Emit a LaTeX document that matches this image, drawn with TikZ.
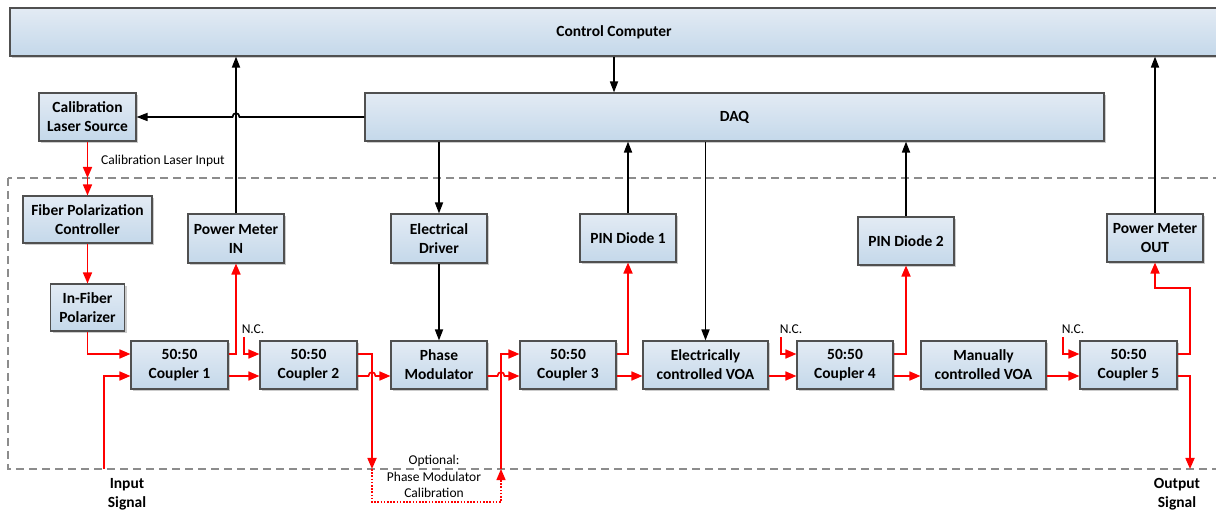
\documentclass[tikz,border=0pt]{standalone}
\usepackage{fontspec}
\setmainfont{Carlito}
\usetikzlibrary{arrows.meta,calc,shadows}
\definecolor{boxtop}{HTML}{E3EBF4}
\definecolor{boxbot}{HTML}{C4D8EA}
\definecolor{boxline}{HTML}{505050}
\definecolor{fibre}{HTML}{FF0000}
\definecolor{framegray}{HTML}{8C8C8C}
\begin{document}
\begin{tikzpicture}[x=1pt,y=-1pt,
  box/.style={draw=boxline, line width=1.1pt, top color=boxtop, bottom color=boxbot,
    inner sep=0pt, align=center, font=\bfseries\fontsize{15.5}{19}\selectfont,
    drop shadow={shadow xshift=2pt, shadow yshift=-2pt, fill=black!40, opacity=0.5}},
  fib/.style={draw=fibre, line width=1.7pt, -{Triangle[length=11pt,width=9pt]}},
  fibdot/.style={draw=fibre, line width=1.3pt, dash pattern=on 1.6pt off 1.6pt,
    -{Triangle[length=11pt,width=9pt]}},
  sig/.style={draw=black, line width=1.7pt, -{Triangle[length=11pt,width=8pt]}},
  lbl/.style={inner sep=0pt, font=\fontsize{13.5}{16.5}\selectfont, align=center},
  boldlbl/.style={inner sep=0pt, font=\bfseries\fontsize{15.5}{19}\selectfont, align=center},
  framedash/.style={draw=framegray, line width=1.2pt, dash pattern=on 8pt off 5pt}]
\useasboundingbox (0,0) rectangle (1216,510);
\clip (0,0) rectangle (1216,510);

% dashed enclosure of the optical bench
\draw[framedash] (8,178) rectangle (1240,469);

% instruments
\node[box, minimum width=1208pt, minimum height=48pt] (cc) at (614,32) {Control Computer};
\node[box, minimum width=739pt, minimum height=48pt] (daq) at (734.5,117) {DAQ};
\node[box, minimum width=97pt, minimum height=48pt] (cls) at (87.5,117) {Calibration\\Laser Source};
\node[box, minimum width=129pt, minimum height=47pt] (fpc) at (87.5,219.5) {Fiber Polarization\\Controller};
\node[box, minimum width=74pt, minimum height=47pt] (ifp) at (87.5,307.5) {In-Fiber\\Polarizer};
\node[box, minimum width=96pt, minimum height=49pt] (pmin) at (236,238.5) {Power Meter\\IN};
\node[box, minimum width=96pt, minimum height=49pt] (ed) at (439,238.5) {Electrical\\Driver};
\node[box, minimum width=96pt, minimum height=48pt] (pd1) at (628,238) {PIN Diode 1};
\node[box, minimum width=96pt, minimum height=48pt] (pd2) at (906,241) {PIN Diode 2};
\node[box, minimum width=96pt, minimum height=48pt] (pmout) at (1155,238) {Power Meter\\OUT};

% optical chain
\node[box, minimum width=97pt, minimum height=48pt] (c1) at (179.5,365) {50:50\\Coupler 1};
\node[box, minimum width=97pt, minimum height=48pt] (c2) at (308.5,365) {50:50\\Coupler 2};
\node[box, minimum width=96pt, minimum height=48pt] (pm) at (439,365) {Phase\\Modulator};
\node[box, minimum width=96pt, minimum height=48pt] (c3) at (568,365) {50:50\\Coupler 3};
\node[box, minimum width=125pt, minimum height=48pt] (evoa) at (705.5,365) {Electrically\\controlled VOA};
\node[box, minimum width=96pt, minimum height=48pt] (c4) at (845,365) {50:50\\Coupler 4};
\node[box, minimum width=125pt, minimum height=48pt] (mvoa) at (983.5,365) {Manually\\controlled VOA};
\node[box, minimum width=97pt, minimum height=48pt] (c5) at (1128.5,365) {50:50\\Coupler 5};

% free ends of fibre paths
\coordinate (calin) at (87.5,178);
\coordinate (insig) at (104,469);
\coordinate (nc2) at (244,337);
\coordinate (nc4) at (781,337);
\coordinate (nc5) at (1063,337);
\coordinate (optdown) at (372,469);
\coordinate (optA) at (372,502);
\coordinate (optB) at (501,502);
\coordinate (optup) at (501,469);
\coordinate (pmbend) at (1190,288);
\coordinate (outsig) at (1190,469);

% electrical / data connections
\draw[sig] (pmin.north) -- (pmin.north |- cc.south);
\draw[sig] (daq.west) -- ($(pmin.north |- daq.west)+(3.5,0)$)
  .. controls +(0,-5) and +(0,-5) .. ($(pmin.north |- daq.west)+(-3.5,0)$) -- (cls.east);
\draw[sig] (cc.south) -- (cc.south |- daq.north);
\draw[sig] (daq.south -| ed.north) -- (ed.north);
\draw[sig] (ed.south) -- (pm.north);
\draw[sig] (pd1.north) -- (pd1.north |- daq.south);
\draw[sig] (daq.south -| evoa.north) -- (evoa.north);
\draw[sig] (pd2.north) -- (pd2.north |- daq.south);
\draw[sig] (pmout.north) -- (pmout.north |- cc.south);

% fibre connections
\draw[fib] (cls.south) -- (calin);
\draw[fib] (calin) -- (fpc.north);
\draw[fib] (fpc.south) -- (ifp.north);
\draw[fib] (ifp.south) |- ([yshift=11pt]c1.west);
\draw[fib] (insig) |- ([yshift=-11pt]c1.west);
\draw[fib] ([yshift=11pt]c1.east) -| (pmin.south);
\draw[fib] ([yshift=-11pt]c1.east) -- ([yshift=-11pt]c2.west);
\draw[fib] (nc2) |- ([yshift=11pt]c2.west);
\draw[fib] ([yshift=11pt]c2.east) -| (optdown);
\draw[fib] ([yshift=-11pt]c2.east) -- ($(optdown |- pm.west)+(-3.5,11)$)
  .. controls +(0,-5) and +(0,-5) .. ($(optdown |- pm.west)+(3.5,11)$) -- ([yshift=-11pt]pm.west);
\draw[fibdot] (optdown) -- (optA) -- (optB) -- (optup);
\draw[fib] (optup) |- ([yshift=11pt]c3.west);
\draw[fib] ([yshift=-11pt]pm.east) -- ($(optup |- pm.east)+(-3.5,11)$)
  .. controls +(0,-5) and +(0,-5) .. ($(optup |- pm.east)+(3.5,11)$) -- ([yshift=-11pt]c3.west);
\draw[fib] ([yshift=11pt]c3.east) -| (pd1.south);
\draw[fib] ([yshift=-11pt]c3.east) -- ([yshift=-11pt]evoa.west);
\draw[fib] ([yshift=-11pt]evoa.east) -- ([yshift=-11pt]c4.west);
\draw[fib] (nc4) |- ([yshift=11pt]c4.west);
\draw[fib] ([yshift=11pt]c4.east) -| (pd2.south);
\draw[fib] ([yshift=-11pt]c4.east) -- ([yshift=-11pt]mvoa.west);
\draw[fib] ([yshift=-11pt]mvoa.east) -- ([yshift=-11pt]c5.west);
\draw[fib] (nc5) |- ([yshift=11pt]c5.west);
\draw[fib] ([yshift=11pt]c5.east) -| (pmbend) -| (pmout.south);
\draw[fib] ([yshift=-11pt]c5.east) -| (outsig);

% labels
\node[lbl] (calinlbl) at (163,161) {Calibration Laser Input};
\node[lbl] (nc2lbl) at (253,329) {N.C.};
\node[lbl] (nc4lbl) at (791,329) {N.C.};
\node[lbl] (nc5lbl) at (1073,329) {N.C.};
\node[lbl] (optlbl) at (434,476.5) {Optional:\\Phase Modulator\\Calibration};
\node[boldlbl] (inlbl) at (127,494) {Input\\Signal};
\node[boldlbl] (outlbl) at (1177,494) {Output\\Signal};
\end{tikzpicture}
\end{document}
